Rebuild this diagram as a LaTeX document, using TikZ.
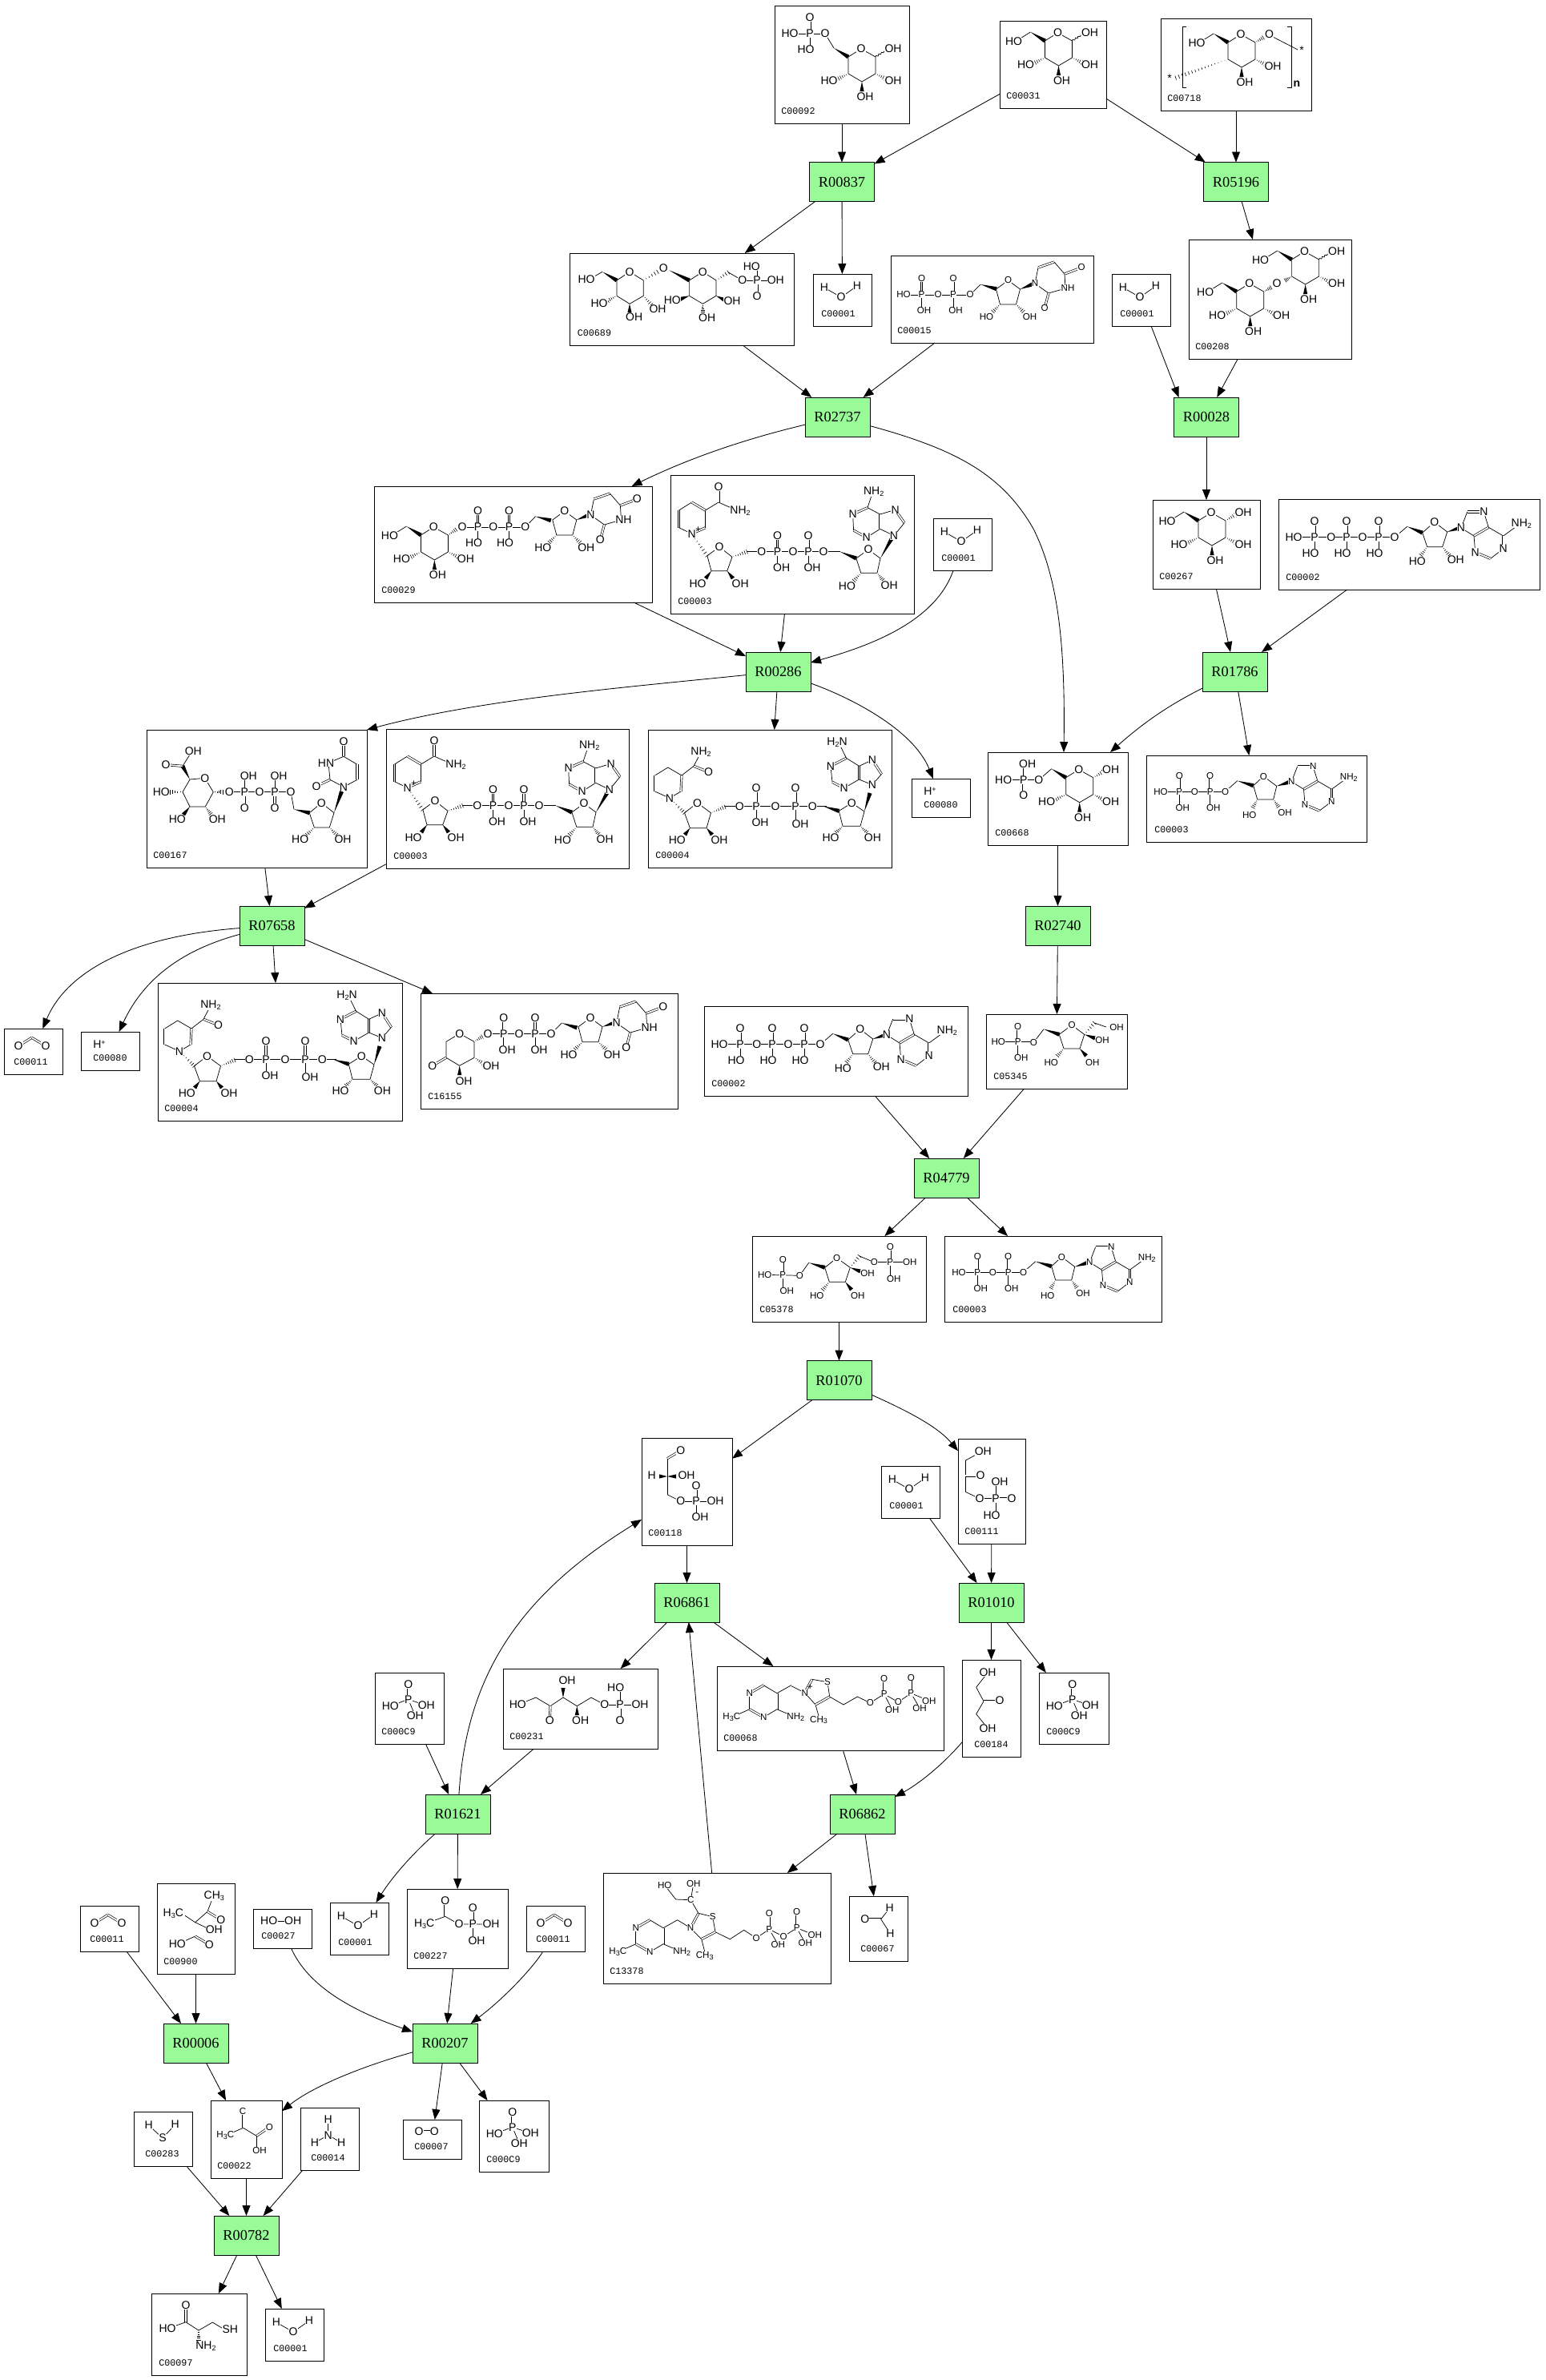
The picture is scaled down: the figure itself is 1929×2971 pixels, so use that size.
\documentclass[tikz,border=0pt]{standalone}
\usepackage{fontspec}
\setmainfont{Liberation Sans}
\newfontfamily\monof{Liberation Mono}
\newfontfamily\serf{Liberation Serif}
\usetikzlibrary{arrows.meta,decorations.pathmorphing,calc}
\definecolor{rgreen}{HTML}{98FB98}
\newcount\atc
\newcommand\afont{\fontsize{7}{8}\selectfont}
\newcommand\afontS{\fontsize{5.8}{7}\selectfont}
\newcommand\subtxt[1]{\raisebox{-.25ex}{\fontsize{4.5}{5}\selectfont #1}}
\newcommand\suptxt[1]{\raisebox{.6ex}{\fontsize{4.5}{5}\selectfont #1}}
\newcommand\curf{L}
\newcommand\atqm{}
\tikzset{
 bond/.style={line width=.36pt,line join=round},
 dbond/.style={line width=.33pt,double,double distance=.85pt},
 hashb/.style={line width=.3pt},
 atomL/.style={font=\afont,fill=white,inner sep=.15pt,outer sep=0pt},
 atomS/.style={font=\afontS,fill=white,inner sep=.15pt,outer sep=0pt},
 plus/.style={font=\afontS,inner sep=0pt},
 cpd/.style={draw,line width=.5pt,fill=white,inner sep=0pt,outer sep=0pt},
 lab/.style={font=\monof\fontsize{5.85}{7}\selectfont,inner sep=0pt},
 rxn/.style={draw,line width=.5pt,fill=rgreen,inner sep=0pt,outer sep=0pt,minimum width=40.5pt,minimum height=24.5pt,font=\serf\fontsize{9.2}{10}\selectfont},
 edge/.style={line width=.42pt,-{Triangle[length=6.5pt,width=5pt]}}
}
\newcommand\Aa[3]{\global\advance\atc by 1\coordinate (p\the\atc) at (#1,#2);\edef\tmpq{\noexpand\node[atom\curf] (a\the\atc) at (p\the\atc)}\xdef\atqm{\unexpanded\expandafter{\atqm}\unexpanded\expandafter{\tmpq}\unexpanded{{#3};}}}
\newcommand\Ap[3]{\global\advance\atc by 1\coordinate (p\the\atc) at (#1,#2);\edef\tmpq{\noexpand\node[plus] (a\the\atc) at (p\the\atc)}\xdef\atqm{\unexpanded\expandafter{\atqm}\unexpanded\expandafter{\tmpq}\unexpanded{{#3};}}}
\newcommand\Bs[4]{\draw[bond] (#1,#2)--(#3,#4);}
\newcommand\Bp[1]{\draw[bond] #1;}
\newcommand\Bd[4]{\draw[dbond] (#1,#2)--(#3,#4);}
\newcommand\Bv[4]{\draw[bond,decorate,decoration={snake,amplitude=.5pt,segment length=2pt}] (#1,#2)--(#3,#4);}
\newcommand\Bw[4]{\pgfmathsetmacro\hdx{#3-(#1)}\pgfmathsetmacro\hdy{#4-(#2)}\pgfmathsetmacro\hl{veclen(\hdx,\hdy)}\pgfmathsetmacro\hnx{-(\hdy)/\hl*2.6}\pgfmathsetmacro\hny{\hdx/\hl*2.6}\fill (#1,#2)--({#3+\hnx},{#4+\hny})--({#3-(\hnx)},{#4-(\hny)})--cycle;}
\newcommand\BhL[5]{\pgfmathsetmacro\hdx{#3-(#1)}\pgfmathsetmacro\hdy{#4-(#2)}\pgfmathsetmacro\hl{veclen(\hdx,\hdy)}\pgfmathsetmacro\hnx{-(\hdy)/\hl*2.8}\pgfmathsetmacro\hny{\hdx/\hl*2.8}\foreach \t in {#5}{\draw[hashb] ({#1+\t*\hdx+\t*\hnx},{#2+\t*\hdy+\t*\hny})--({#1+\t*\hdx-\t*\hnx},{#2+\t*\hdy-\t*\hny});}}
\newcommand\Bh[4]{\BhL{#1}{#2}{#3}{#4}{.2,.4,.6,.8,1}}
\newcommand\Mol[3]{\begin{scope}[shift={(#1,#2)}]#3\end{scope}}
\newcommand\MolS[3]{\begin{scope}[shift={(#1,#2)}]\renewcommand\curf{S}#3\end{scope}}
\newcommand\Cpd[7]{\pgfmathsetlengthmacro\cw{(#4-#2)*0.5}\pgfmathsetlengthmacro\ch{(#5-#3)*0.5}%
 \node[cpd,minimum width=\cw,minimum height=\ch] (#1) at ({(#2+#4)/2},{(#3+#5)/2}) {};
 \node[lab,anchor=west] (#1l) at ({#2+#7},{#5-15}) {#6};}
\newcommand\Rx[4]{\node[rxn] (#1) at (#2,#3) {#4};}
\newcommand\PhU[4]{\Bd{#1}{#2}{#1}{#2-20}\Bs{#1}{#2}{#1}{#2+18}\Aa{#1}{#2}{P}\Aa{#1}{#2-20}{O}\Aa{#1+#3}{#2+20}{#4}}
\newcommand\PhD[4]{\Bd{#1}{#2}{#1}{#2+20}\Bs{#1}{#2}{#1}{#2-18}\Aa{#1}{#2}{P}\Aa{#1}{#2+20}{O}\Aa{#1+#3}{#2-20}{#4}}
\newcommand\pyrR{\Bp{(-16,10)--(0,0)--(18,10)--(18,31)--(1,41)--(-16,31)--cycle}\Bw{-34}{-1}{-16}{10}\Bh{18}{31}{30}{37}\Aa{40}{40}{OH}\Bw{1}{41}{1}{53}\Aa{5}{60}{OH}\Aa{0}{0}{O}}
\newcommand\pyrL{\Bh{-16}{31}{-28}{37}\Aa{-40}{40}{HO}}
\newcommand\cOHw{\Bv{18}{10}{29}{3}\Aa{40}{0}{OH}}
\newcommand\cOHh{\Bh{18}{10}{30}{3}\Aa{40}{0}{OH}}
\newcommand\cHO{\Bs{-34}{-1}{-50}{9}\Aa{-55}{11}{HO}}
\newcommand\ribR{\Bp{(-15,11)--(0,0)--(15,11)--(10,30)--(-10,30)--cycle}\Aa{0}{0}{O}}
\newcommand\ribH{\Bh{-10}{30}{-19}{39}\Aa{-27}{46}{HO}\Bh{10}{30}{19}{39}\Aa{27}{46}{OH}}
\newcommand\uraA{\Bs{0}{0}{4}{-20}\Bd{4}{-20}{24}{-27}\Bs{24}{-27}{37}{-12}\Bd{37}{-12}{58}{-20}\Bs{37}{-12}{38}{6}\Bs{38}{6}{17}{12}\Bs{17}{12}{0}{0}\Bd{17}{12}{12}{31}\Aa{0}{0}{N}\Aa{58}{-20}{O}\Aa{41}{6}{NH}\Aa{12}{31}{O}}
\newcommand\uraB{\Bs{0}{0}{-17}{-9}\Bd{-17}{-9}{-34}{-1}\Bs{-17}{-9}{-19}{-30}\Bs{-19}{-30}{0}{-38}\Bd{0}{-38}{0}{-57}\Bs{0}{-38}{17}{-28}\Bd{17}{-28}{17}{-9}\Bs{17}{-9}{0}{0}\Aa{0}{0}{N}\Aa{-34}{-1}{O}\Aa{-22}{-30}{HN}\Aa{0}{-57}{O}}
\newcommand\adeA{\Bs{0}{0}{7.7}{-20}\Bd{7.7}{-20}{28.3}{-20}\Bs{28.3}{-20}{34.3}{-.7}\Bd{34.3}{-.7}{16}{10}\Bs{16}{10}{0}{0}\Bs{34.3}{-.7}{52.7}{10}\Bs{52.7}{10}{72}{-4}\Bd{52.7}{10}{52.7}{26}\Bs{52.7}{26}{36.7}{38.3}\Bd{36.7}{38.3}{17.7}{30.3}\Bs{17.7}{30.3}{16}{10}\Aa{0}{0}{N}\Aa{28.3}{-20}{N}\Aa{52.7}{26}{N}\Aa{17.7}{30.3}{N}\Aa{75.3}{-5.7}{NH\subtxt{2}}}
\newcommand\adeB{\Bs{0}{0}{-17.3}{-8.4}\Bs{-17.3}{-8.4}{-34.3}{2.3}\Bd{-34.3}{2.3}{-50.4}{-6.7}\Bs{-50.4}{-6.7}{-51.4}{-26.7}\Bd{-51.4}{-26.7}{-33}{-35}\Bs{-33}{-35}{-27}{-53}\Bs{-33}{-35}{-17.3}{-26.7}\Bd{-17.3}{-26.7}{-17.3}{-8.4}\Bs{-17.3}{-26.7}{1.6}{-32.4}\Bd{1.6}{-32.4}{13}{-16}\Bs{13}{-16}{0}{0}\Aa{0}{0}{N}\Aa{-34.3}{2.3}{N}\Aa{-51.4}{-26.7}{N}\Aa{1.6}{-32.4}{N}\Aa{-25.3}{-55}{NH\subtxt{2}}}
\newcommand\atpM{\Bs{19}{47.7}{145}{47.7}\Aa{19}{47.7}{HO}\PhU{45}{47.7}{-5}{HO}\Aa{65.7}{47.7}{O}\PhU{85}{47.7}{-5}{HO}\Aa{105}{47.7}{O}\PhU{125}{47.7}{-5}{HO}\Aa{145}{47.7}{O}\Bs{145}{47.7}{160.7}{34.3}\Bw{160.7}{34.3}{179.7}{42}%
 \Bp{(179.7,42)--(194.7,28.7)--(210.7,41)--(204.7,59.7)--(185.7,59.7)--cycle}\Aa{194.7}{28.7}{O}\Bh{185.7}{59.7}{178}{70}\Aa{173.3}{78}{HO}\Bh{204.7}{59.7}{213}{70}\Aa{221.3}{76}{OH}\Bw{210.7}{41}{226}{36}\Mol{228}{36}{\adeA}}
\newcommand\adpM{\Bs{18}{45}{98.7}{45}\Aa{18}{45}{HO}\PhU{41.3}{45}{4}{OH}\Aa{60.3}{45}{O}\PhU{79.7}{45}{4}{OH}\Aa{98.7}{45}{O}\Bs{98.7}{45}{113.7}{31.7}\Bw{113.7}{31.7}{133.7}{37.7}%
 \Bp{(133.7,37.7)--(146.3,26)--(162.7,38.3)--(158.7,55)--(138.7,55)--cycle}\Aa{146.3}{26}{O}\Bh{138.7}{55}{133}{65}\Aa{128.7}{74}{HO}\Bh{158.7}{55}{165}{64}\Aa{173}{71}{OH}\Bw{162.7}{38.3}{178}{33.5}%
 \begin{scope}[shift={(181.3,32.7)},scale=.95]\adeA\end{scope}}
\newcommand\nadM{\Bs{26.6}{34}{10.6}{44}\Bd{10.6}{44}{10.6}{65.7}\Bs{10.6}{65.7}{26.6}{73.3}\Bd{26.6}{73.3}{43.6}{65.7}\Bs{43.6}{65.7}{43.6}{44}\Bd{43.6}{44}{26.6}{34}\Bs{43.6}{44}{60}{34}\Bd{60}{34}{60}{14.7}\Bs{60}{34}{78}{42}\Aa{60}{14.7}{O}\Aa{87}{44.7}{NH\subtxt{2}}\Aa{26.6}{73.3}{N}\Ap{34.4}{68}{+}%
 \BhL{29}{77}{45.9}{100.7}{.1,.25,.4,.55,.7,.85,1}%
 \Bp{(45.9,100.7)--(61,89.7)--(77,102.3)--(70.7,119.7)--(51,119.7)--cycle}\Aa{61}{89.7}{O}\Bw{51}{119.7}{44}{129}\Aa{34}{135.7}{HO}\Bw{70.7}{119.7}{78}{129}\Aa{87.2}{135.7}{OH}%
 \BhL{77}{102.3}{95.5}{95.7}{.1,.25,.4,.55,.7,.85,1}\Bs{95.5}{95.7}{211.7}{95.7}\Aa{113.9}{95.7}{O}\PhU{133.6}{95.7}{5}{OH}\Aa{153}{95.7}{O}\PhU{172}{95.7}{5}{OH}\Aa{191}{95.7}{O}\Bw{211.7}{95.7}{231.9}{104}%
 \Bp{(231.9,104)--(247,93)--(262,104)--(258,122.3)--(237.8,122.3)--cycle}\Aa{247}{93}{O}\Bh{237.8}{122.3}{229}{132}\Aa{220.4}{139}{HO}\Bh{258}{122.3}{265}{131}\Aa{273.2}{137.3}{OH}\Bw{262}{104}{277}{78}\Mol{279}{75.7}{\adeB}}
\newcommand\nadhM{\Bp{(24.8,47)--(8.7,57)}\Bd{8.7}{57}{8.7}{77}\Bp{(8.7,77)--(27,85.3)--(41,77)}\Bd{41}{77}{42}{57}\Bp{(42,57)--(24.8,47)}\Bs{42}{57}{57}{45.3}\Bd{57}{45.3}{75.5}{52.7}\Bs{57}{45.3}{64}{32}\Aa{75.5}{52.7}{O}\Aa{66}{28}{NH\subtxt{2}}\Aa{27}{85.3}{N}%
 \BhL{31}{89}{45.5}{103.7}{.1,.3,.5,.7,.85,1}%
 \Bp{(45.5,103.7)--(61.6,91.3)--(78.5,103.7)--(73,122.7)--(52.4,122.7)--cycle}\Aa{61.6}{91.3}{O}\Bw{52.4}{122.7}{46}{131}\Aa{36.3}{137.3}{HO}\Bw{73}{122.7}{80}{131}\Aa{89}{137.3}{OH}%
 \BhL{78.5}{103.7}{96}{96.3}{.1,.25,.4,.55,.7,.85,1}\Bs{96}{95.3}{223}{95.3}\Aa{114.3}{95.3}{O}%
 \Bd{135}{95.3}{135}{73}\Bs{135}{95.3}{135}{113}\Aa{135}{95.3}{P}\Aa{135}{73}{O}\Aa{140}{115.3}{OH}\Aa{159}{95.3}{O}%
 \Bd{184}{95.3}{184}{73}\Bs{184}{95.3}{184}{115}\Aa{184}{95.3}{P}\Aa{184}{73}{O}\Aa{190}{117.3}{OH}\Aa{205.2}{95.3}{O}\Bw{219}{95.5}{238.3}{101.3}%
 \Bp{(238.3,101.3)--(254.4,91.3)--(270,102)--(265,120.3)--(243,120.3)--cycle}\Aa{254.4}{91.3}{O}\Bh{243}{120.3}{235}{128}\Aa{228}{134.3}{HO}\Bh{265}{120.3}{273}{128}\Aa{280.4}{134.3}{OH}\Bw{270}{102}{277}{79}%
 \Bs{263.5}{62}{244.7}{72.7}\Bd{244.7}{72.7}{230}{65.3}\Bs{230}{65.3}{228}{45.3}\Bd{228}{45.3}{247.5}{35.3}\Bs{247.5}{35.3}{240}{20}\Bs{247.5}{35.3}{263.5}{45.3}\Bd{263.5}{45.3}{263.5}{62}\Bs{263.5}{45.3}{280}{37.7}\Bd{280}{37.7}{291.5}{55.3}\Bs{291.5}{55.3}{280}{68.7}\Bs{280}{68.7}{263.5}{62}\Aa{244.7}{72.7}{N}\Aa{228}{45.3}{N}\Aa{280}{37.7}{N}\Aa{280}{68.7}{N}\Aa{236}{16}{H\subtxt{2}N}}
\newcommand\waterM{\Bs{14}{17}{35}{29}\Bs{35}{29}{55}{15}\Aa{14}{17}{H}\Aa{35}{29}{O}\Aa{55}{15}{H}}
\newcommand\piM{\Bd{41.7}{14.3}{41.7}{33.3}\Bs{41.7}{33.3}{19.3}{41.7}\Bs{41.7}{33.3}{64.3}{41}\Bs{41.7}{33.3}{50.3}{53.7}\Aa{41.7}{14.3}{O}\Aa{41.7}{33.3}{P}\Aa{19.3}{41.7}{HO}\Aa{64.3}{41}{OH}\Aa{50.3}{53.7}{OH}}
\newcommand\coM{\Bd{18}{21.7}{34.7}{11.3}\Bd{34.7}{11.3}{52}{21.7}\Aa{18}{21.7}{O}\Aa{52}{21.7}{O}}
\newcommand\pymM{\Bs{18.3}{0}{40.7}{-10}\Bs{40.7}{-10}{40.7}{-30}\Bd{40.7}{-30}{58.3}{-40}\Bs{58.3}{-40}{75}{-30}\Bd{75}{-30}{75}{-10}\Bs{75}{-10}{58.3}{0}\Bd{58.3}{0}{40.7}{-10}\Bs{75}{-10}{98.3}{0}\Bs{75}{-30}{92.7}{-40}\Aa{18.3}{0}{H\subtxt{3}C}\Aa{40.7}{-30}{N}\Aa{58.3}{0}{N}\Aa{98.3}{0}{NH\subtxt{2}}}
\begin{document}
\begin{tikzpicture}[x=.5pt,y=-.5pt]
\useasboundingbox (0,0) rectangle (1929,2971);
\fill[white] (0,0) rectangle (1929,2971);
\Rx{r837}{1051}{227}{R00837}
\Rx{r5196}{1543}{227}{R05196}
\Rx{r2737}{1045.5}{520.5}{R02737}
\Rx{r28}{1506}{520.5}{R00028}
\Rx{r286}{971.5}{838.5}{R00286}
\Rx{r1786}{1541.5}{838.5}{R01786}
\Rx{r7658}{339.5}{1155.5}{R07658}
\Rx{r2740}{1320.5}{1155.5}{R02740}
\Rx{r4779}{1181.5}{1470.5}{R04779}
\Rx{r1070}{1047.5}{1723}{R01070}
\Rx{r6861}{857.5}{2000.5}{R06861}
\Rx{r1010}{1237.5}{2000.5}{R01010}
\Rx{r6862}{1076.5}{2264.5}{R06862}
\Rx{r1621}{571.5}{2264.5}{R01621}
\Rx{r6}{244.5}{2550.5}{R00006}
\Rx{r207}{555.5}{2550.5}{R00207}
\Rx{r782}{307.5}{2790.5}{R00782}
\Cpd{c92}{967}{7}{1135}{154}{C00092}{8}
\Mol{1075}{61}{\pyrR\pyrL\cOHw\Bs{-34}{-1}{-45}{-19}\Aa{-45}{-19}{O}\Bs{-45}{-19}{-89}{-19}\Aa{-64}{-19}{P}\Bd{-64}{-19}{-64}{-39}\Aa{-64}{-39}{O}\Aa{-89}{-19}{HO}\Bs{-64}{-19}{-64}{-1}\Aa{-69}{1}{HO}}
\Cpd{c31}{1248}{26}{1381}{135}{C00031}{8}
\Mol{1320.5}{41}{\pyrR\pyrL\cOHw\cHO}
\Cpd{c718}{1449}{23}{1637}{138}{C00718}{8}
\Mol{1549}{43}{\pyrR\cHO\Bh{18}{10}{28}{4}\Aa{35.5}{0}{O}\Bs{38}{2}{71}{19}\Aa{76}{20}{*}\BhL{-16}{31}{-84}{55}{.06,.12,.18,.24,.3,.36,.42,.48,.54,.6,.66,.72,.78,.84,.9,.96}\Aa{-89}{55}{*}}
\draw[bond,line width=.45pt] (1481,33)--(1476,33)--(1476,109)--(1481,109);
\draw[bond,line width=.45pt] (1607,33)--(1612,33)--(1612,109)--(1607,109);
\Aa{1619}{105}{\textbf{n}}
\Cpd{c689}{711.5}{316}{991.5}{431}{C00689}{9}
\Mol{786}{339.3}{\Bp{(-16,10.7)--(0,0)--(17.3,10.7)--(17.3,30)--(0,40)--(-16,30)--cycle}\Bw{-34}{0}{-16}{10.7}\Bs{-34}{0}{-48}{8}\Aa{-54}{9}{HO}\Aa{0}{0}{O}\Bh{-16}{30}{-27}{36}\Aa{-38}{39}{HO}\Bw{0}{40}{0}{51}\Aa{5.7}{56}{OH}\Bh{17.3}{30}{27}{41}\Aa{35}{46.7}{OH}\Bh{17.3}{10.7}{35}{0}\Aa{42.3}{-4.3}{O}}
\Mol{877.3}{339.3}{\Bp{(-16.7,10.7)--(0,0)--(16.7,10.7)--(16.7,30)--(0,40)--(-16.7,30)--cycle}\Bw{-42}{-2}{-16.7}{10.7}\Aa{0}{0}{O}\Bw{-16.7}{30}{-28}{34}\Aa{-38}{35}{HO}\Bw{16.7}{30}{27}{35}\Aa{36.7}{36.7}{OH}\Bh{0}{40}{0}{50}\Aa{5.4}{57.4}{OH}\Bh{16.7}{10.7}{32}{0.7}\Bs{32}{0.7}{49.4}{10.7}\Aa{49.4}{10.7}{O}\Bs{49.4}{10.7}{91}{10.7}\Aa{67.7}{10.7}{P}\Bs{67.7}{10.7}{67.7}{-5}\Aa{61}{-7}{HO}\Aa{91}{10.7}{OH}\Bd{67.7}{10.7}{67.7}{30}\Aa{67.7}{30}{O}}
\Cpd{c1a}{1015}{342}{1088}{407}{C00001}{10}
\Mol{1015}{342}{\waterM}
\Cpd{c15}{1112}{319}{1365}{428}{C00015}{8}
\MolS{1112}{319}{\Bs{16}{49}{99}{49}\Aa{16}{49}{HO}\PhU{38.6}{49}{3}{OH}\Aa{59}{49}{O}\PhU{78}{49}{3}{OH}\Aa{99}{49}{O}\Bs{99}{49}{112}{36}\Bw{112}{36}{132}{41.7}\Mol{146.5}{31}{\ribR\ribH\Bw{15}{11}{30}{5}}\Mol{180}{35}{\uraA}}
\Cpd{c1b}{1388}{342}{1461}{407}{C00001}{10}
\Mol{1388}{342}{\waterM}
\Cpd{c208}{1484}{299}{1687}{448}{C00208}{8}
\Mol{1628.6}{314}{\pyrR\cOHw\cHO\Bh{-16}{31}{-24}{36}}
\Mol{1559.7}{354}{\pyrR\pyrL\cHO\Bh{18}{10}{27}{5}\Aa{34.3}{0}{O}}
\Cpd{c29}{467}{607}{814}{752}{C00029}{9}
\Mol{467}{607}{\Mol{74.4}{51}{\pyrR\pyrL\cHO\Bh{18}{10}{28}{3}}\Bs{110}{51}{188.7}{51}\Aa{110}{51}{O}\PhU{129.5}{51}{-5}{HO}\Aa{148.8}{51}{O}\PhU{168.5}{51}{-5}{HO}\Aa{188.7}{51}{O}\Bs{188.7}{51}{201.5}{37.7}\Bw{201.5}{37.7}{220.8}{42.7}\Mol{237.8}{31}{\ribR\ribH\Bw{15}{11}{30}{5}}\Mol{270.4}{36}{\uraA}}
\Cpd{c3a}{837}{593}{1141}{766}{C00003}{9}
\Mol{837}{593}{\nadM}
\Cpd{c1c}{1165}{647}{1238}{712}{C00001}{10}
\Mol{1165}{647}{\waterM}
\Cpd{c267}{1439}{624}{1573}{735}{C00267}{8}
\Mol{1512}{640}{\pyrR\pyrL\cOHh\cHO}
\Cpd{c2a}{1596}{623}{1922}{736}{C00002}{9}
\Mol{1596}{623}{\atpM}
\Cpd{c167}{183}{911}{458}{1083}{C00167}{8}
\Mol{183}{911}{\Bp{(54,62)--(72.7,60.3)--(83.3,77.7)--(73.3,96)--(54,96)--(45,77.7)--cycle}\Aa{72.7}{60.3}{O}\Bw{54}{62}{45}{45.3}\Bd{45}{45.3}{24}{43.7}\Bs{45}{45.3}{54}{31}\Aa{24}{43.7}{O}\Aa{58.3}{27}{OH}\Bh{45}{77.7}{29}{77.7}\Aa{18.3}{77.7}{HO}\Bw{54}{96}{46}{106}\Aa{38.3}{112}{HO}\Bh{73.3}{96}{80}{105}\Aa{88.3}{112}{OH}\Bh{83.3}{77.7}{95}{77.7}\Bs{103.3}{77.7}{180}{77.7}\Aa{103.3}{77.7}{O}\PhD{122.3}{77.7}{5}{OH}\Aa{141}{77.7}{O}\PhD{160}{77.7}{5}{OH}\Aa{180}{77.7}{O}\Bs{180}{77.7}{184}{99.3}\Bw{184}{99.3}{203.3}{103.7}\Bp{(203.3,103.7)--(218.3,91.3)--(234,103.7)--(228.3,122)--(209.3,122)--cycle}\Aa{218.3}{91.3}{O}\Bh{209.3}{122}{200}{131}\Aa{191.7}{137}{HO}\Bh{228.3}{122}{237}{131}\Aa{245}{137}{OH}\Bw{234}{103.7}{243.5}{77}\Mol{246}{71.3}{\uraB}}
\Cpd{c3b}{482}{910}{785}{1084}{C00003}{9}
\Mol{482}{910}{\nadM}
\Cpd{c4a}{809}{911}{1113}{1083}{C00004}{9}
\Mol{809}{911}{\nadhM}
\Cpd{c80a}{1138}{972}{1211}{1020}{C00080}{15}
\Aa{1161}{988}{H\suptxt{+}}
\Cpd{c668}{1233}{939}{1408}{1055}{C00668}{9}
\Mol{1346.7}{960.7}{\pyrR\pyrL\cOHh\Bs{-34}{-1}{-50}{13}\Aa{-50}{13}{O}\Bs{-50}{13}{-94}{13}\Aa{-69}{13}{P}\Bs{-69}{13}{-69}{-5}\Aa{-64}{-7}{OH}\Bd{-69}{13}{-69}{32}\Aa{-69}{32}{O}\Aa{-94}{13}{HO}}
\Cpd{c3d}{1431}{943}{1706}{1051}{C00003}{10}
\MolS{1431}{943}{\adpM}
\Cpd{c11a}{5}{1284}{78}{1341}{C00011}{12}
\Mol{5}{1284}{\coM}
\Cpd{c80b}{101}{1288}{174}{1336}{C00080}{15}
\Aa{124}{1304}{H\suptxt{+}}
\Cpd{c4b}{197}{1227}{502}{1399}{C00004}{8}
\Mol{197}{1227}{\nadhM}
\Cpd{c16155}{525}{1240}{846}{1384}{C16155}{9}
\Mol{525}{1240}{\Bp{(48.7,50.3)--(32,60.3)--(32,80.3)--(48.7,90.3)--(67,80.3)--(67,60.3)--cycle}\Bd{32}{80.3}{14.7}{90.3}\Aa{14.7}{90.3}{O}\Bw{48.7}{90.3}{48.7}{102}\Aa{54}{109.7}{OH}\Bh{67}{80.3}{78}{87}\Aa{88}{90.3}{OH}\Aa{48.7}{50.3}{O}\Bh{67}{60.3}{77}{54}\Bs{84}{50.3}{163}{50.3}\Aa{84}{50.3}{O}\PhU{103.7}{50.3}{4.5}{OH}\Aa{123}{50.3}{O}\PhU{143}{50.3}{5}{OH}\Aa{163}{50.3}{O}\Bs{163}{50.3}{176.3}{37}\Bw{176.3}{37}{195.3}{43}\Mol{212}{30.7}{\ribR\ribH\Bw{15}{11}{30}{6}}\Mol{244.7}{37}{\uraA}}
\Cpd{c2b}{879}{1256}{1208}{1368}{C00002}{9}
\Mol{879}{1256}{\atpM}
\Cpd{c5345}{1231}{1266}{1407}{1359}{C05345}{9}
\MolS{1231}{1266}{\Bs{15.3}{34.3}{59.3}{34.3}\Aa{15.3}{34.3}{HO}\Bd{39.7}{34.3}{39.7}{15.3}\Bs{39.7}{34.3}{39.7}{52}\Aa{39.7}{34.3}{P}\Aa{39.7}{15.3}{O}\Aa{43.7}{54.3}{OH}\Aa{59.3}{35.3}{O}\Bs{59.3}{35.3}{72}{18.7}\Bw{72}{18.7}{91.3}{25.3}\Bp{(91.3,25.3)--(107,13.7)--(122.7,25.3)--(117,43)--(97,43)--cycle}\Aa{107}{13.7}{O}\Bh{97}{43}{89}{52}\Aa{81.3}{60.3}{HO}\Bw{117}{43}{125}{52}\Aa{132.7}{60.3}{OH}\Bw{122.7}{25.3}{136}{30}\Aa{145}{32}{OH}\Bh{122.7}{25.3}{135.3}{11}\Bs{135.3}{11}{150}{16}\Aa{163}{16}{OH}}
\Cpd{c5378}{939}{1543}{1156}{1650}{C05378}{9}
\MolS{939}{1543}{\Bs{15.7}{48.3}{59.3}{49.3}\Aa{15.7}{48.3}{HO}\Bd{38.3}{48.3}{38.3}{29}\Bs{38.3}{48.3}{38.3}{66}\Aa{38.3}{48.3}{P}\Aa{38.3}{29}{O}\Aa{43.3}{68.3}{OH}\Aa{59.3}{49.3}{O}\Bs{59.3}{49.3}{70.7}{33.3}\Bw{70.7}{33.3}{90.7}{39.3}\Bp{(90.7,39.3)--(105.7,27.3)--(122.3,39.3)--(116.3,57.3)--(96.3,57.3)--cycle}\Aa{105.7}{27.3}{O}\Bh{96.3}{57.3}{88}{67}\Aa{80.7}{74.3}{HO}\Bw{116.3}{57.3}{124}{67}\Aa{131.7}{74.3}{OH}\Bw{122.3}{39.3}{135}{44}\Aa{144}{46.7}{OH}\Bh{122.3}{39.3}{134}{25}\Bs{134}{25}{152.3}{32.7}\Aa{152.3}{32.7}{O}\Bs{152.3}{32.7}{196.7}{32.7}\Aa{172.3}{32.7}{P}\Bd{172.3}{32.7}{172.3}{13.3}\Aa{172.3}{13.3}{O}\Bs{172.3}{32.7}{172.3}{51}\Aa{176.7}{53.3}{OH}\Aa{196.7}{32.7}{OH}}
\Cpd{c3c}{1179}{1543}{1450}{1650}{C00003}{10}
\MolS{1179}{1543}{\adpM}
\Cpd{c118}{801}{1795}{914}{1929}{C00118}{8}
\Mol{801}{1795}{\Bd{32}{25.7}{48.7}{15.7}\Aa{48.7}{15.7}{O}\Bs{32}{25.7}{32}{70.7}\Bs{32}{70.7}{48.7}{79}\Aa{12.7}{46.3}{H}\Aa{56}{46.3}{OH}\Bw{32}{48}{22}{48}\Bw{32}{48}{43}{48}\Bs{48.7}{79}{92}{79}\Aa{48.7}{79}{O}\Aa{68}{79}{P}\Bd{68}{79}{68}{59.7}\Aa{68}{59.7}{O}\Bs{68}{79}{68}{97}\Aa{73}{99}{OH}\Aa{92}{79}{OH}}
\Cpd{c1d}{1100}{1830}{1173}{1895}{C00001}{10}
\Mol{1100}{1830}{\waterM}
\Cpd{c111}{1196}{1796}{1280}{1927}{C00111}{8}
\Mol{1196}{1796}{\Bs{31.3}{15.3}{9.3}{27}\Bs{9.3}{27}{9.3}{66.3}\Bd{9.3}{46}{28}{46}\Aa{28}{45.3}{O}\Aa{31.3}{15.3}{OH}\Bs{9.3}{66.3}{27}{74.7}\Aa{27}{74.7}{O}\Bs{27}{74.7}{47}{74.7}\Aa{47}{74.7}{P}\Bs{47}{74.7}{47}{56}\Aa{52}{53.7}{OH}\Bd{47}{74.7}{67}{74.7}\Aa{67}{74.7}{O}\Bs{47}{74.7}{47}{94}\Aa{42}{96}{HO}}
\Cpd{c231}{628}{2083}{821}{2183}{C00231}{8}
\Mol{628}{2083}{\Bp{(18.3,45)--(41,36)--(59,46.7)--(75,36)--(92.3,46.7)--(110,36)--(126.7,45)}\Aa{18.3}{45}{HO}\Bd{59}{46.7}{58.3}{65}\Aa{58.3}{65}{O}\Bw{75}{36}{75}{24}\Aa{80}{15}{OH}\Bw{92.3}{46.7}{92.3}{58}\Aa{96.7}{65}{OH}\Aa{126.7}{45}{O}\Bs{126.7}{45}{171}{45}\Aa{146}{45}{P}\Bs{146}{45}{146}{27}\Aa{140.7}{24}{HO}\Aa{171}{45}{OH}\Bd{146}{45}{146}{65}\Aa{146}{65}{O}}
\Cpd{c68}{895}{2080}{1178}{2185}{C00068}{8}
\MolS{895}{2080}{\Mol{0}{63.7}{\pymM}\Bp{(93,24.7)--(109.7,33)--(123,48)--(127,62)}\Bd{109.7}{33}{118.7}{16.3}\Bp{(118.7,16.3)--(138,19.7)--(140.7,38)}\Bd{140.7}{38}{123}{48}\Bp{(140.7,38)--(158,48)--(175.3,38)--(191.3,45.7)--(208.7,34.7)--(226.3,44.7)--(242.3,33.7)--(264.7,43)}\Bs{208.7}{34.7}{218.7}{54}\Bs{242.3}{33.7}{253}{52}\Bd{208.7}{34.7}{208.7}{15.3}\Bd{242.3}{33.7}{242.3}{14}\Aa{109.7}{33}{N}\Ap{116.3}{26.3}{+}\Aa{138}{19.7}{S}\Aa{127}{67}{CH\subtxt{3}}\Aa{191.3}{45.7}{O}\Aa{208.7}{34.7}{P}\Aa{208.7}{15.3}{O}\Aa{218.7}{54}{OH}\Aa{226.3}{44.7}{O}\Aa{242.3}{33.7}{P}\Aa{242.3}{14}{O}\Aa{264.7}{43}{OH}\Aa{253}{52}{OH}}
\Cpd{c184}{1201}{2072}{1274}{2193}{C00184}{15}
\Mol{1201}{2072}{\Bp{(32,16)--(17.7,34.3)--(27,51.7)--(17.7,67.7)--(32,85.3)}\Bd{27}{51.7}{47}{51.7}\Aa{32}{16}{OH}\Aa{47}{51}{O}\Aa{32}{85.3}{OH}}
\Cpd{c9a}{1297}{2088}{1384}{2177}{C000C9}{9}
\Mol{1297}{2088}{\piM}
\Cpd{c9b}{468}{2088}{554}{2177}{C000C9}{8}
\Mol{468}{2088}{\piM}
\Cpd{c13378}{753}{2338}{1037}{2476}{C13378}{8}
\MolS{753}{2338}{\Mol{0}{98.7}{\pymM}\Bp{(92.7,58.7)--(109,68.7)--(122.7,82.7)--(126.7,98)}\Bd{109}{68.7}{119}{50.3}\Bp{(119,50.3)--(136.7,54.7)--(140,73.7)}\Bd{140}{73.7}{122.7}{82.7}\Bp{(119,50.3)--(109.3,33.7)--(90.7,33)--(76.7,15.3)}\Bs{109.3}{33.7}{112.7}{13.7}\Bp{(140,73.7)--(158.3,82.7)--(175.7,71.3)--(191,81.3)--(207.3,70.3)--(225,79.3)--(241.7,68.7)--(264.3,77.7)}\Bs{207.3}{70.3}{218.3}{89.3}\Bs{241.7}{68.7}{252.3}{87.7}\Bd{207.3}{70.3}{207.3}{50.3}\Bd{241.7}{68.7}{241.7}{48.7}\Aa{109}{68.7}{N}\Aa{136.7}{54.7}{S}\Aa{109.3}{33.7}{C}\Ap{117.3}{26}{-}\Aa{112.7}{13.7}{OH}\Aa{76.7}{15.3}{HO}\Aa{126.7}{103.7}{CH\subtxt{3}}\Aa{191}{81.3}{O}\Aa{207.3}{70.3}{P}\Aa{207.3}{50.3}{O}\Aa{218.3}{89.3}{OH}\Aa{225}{79.3}{O}\Aa{241.7}{68.7}{P}\Aa{241.7}{48.7}{O}\Aa{264.3}{77.7}{OH}\Aa{252.3}{87.7}{OH}}
\Cpd{c67}{1060}{2367}{1133}{2448}{C00067}{14}
\Mol{1060}{2367}{\Bd{19.7}{28.7}{39.7}{28.7}\Bs{39.7}{28.7}{50.7}{15}\Bs{39.7}{28.7}{51.3}{46.7}\Aa{19.7}{28.7}{O}\Aa{50.7}{15}{H}\Aa{51.3}{46.7}{H}}
\Cpd{c1e}{412}{2375}{485}{2440}{C00001}{10}
\Mol{412}{2375}{\waterM}
\Cpd{c227}{508}{2358}{634}{2457}{C00227}{8}
\Mol{508}{2358}{\Bp{(21.7,44)--(47.7,34.3)--(65,44)--(105,44)}\Bd{47.7}{34.3}{47.7}{15}\Aa{21.7}{44}{H\subtxt{3}C}\Aa{47.7}{15}{O}\Aa{65}{44}{O}\Aa{82.3}{44}{P}\Bd{82.3}{44}{82.3}{24}\Aa{82.3}{24}{O}\Aa{105}{44}{OH}\Bs{82.3}{44}{82.3}{62}\Aa{87}{64.3}{OH}}
\Cpd{c11c}{657}{2379}{730}{2436}{C00011}{12}
\Mol{657}{2379}{\coM}
\Cpd{c27}{316}{2383}{389}{2432}{C00027}{10}
\Mol{316}{2383}{\Bs{19.7}{15}{49.7}{15}\Aa{19.7}{15}{HO}\Aa{49.7}{15}{OH}}
\Cpd{c900}{196}{2351}{293}{2464}{C00900}{8}
\Mol{196}{2351}{\Bp{(35,40.3)--(47.7,48.7)--(63,35.3)--(68,22)}\Bs{47.7}{48.7}{65}{57}\Bd{63}{35.3}{79.7}{45.3}\Aa{20.3}{38}{H\subtxt{3}C}\Aa{71.3}{16}{CH\subtxt{3}}\Aa{79.7}{45.3}{O}\Aa{71.3}{58}{OH}\Bs{30}{74}{47.7}{66}\Bd{47.7}{66}{65.3}{76.3}\Aa{25.3}{76}{HO}\Aa{65.3}{76.3}{O}}
\Cpd{c11b}{100}{2379}{173}{2436}{C00011}{12}
\Mol{100}{2379}{\coM}
\Cpd{c22}{263}{2622}{352}{2719}{C00022}{8}
\MolS{263}{2622}{\Bd{40.7}{34.3}{40.7}{13.3}\Aa{40}{13.3}{C}\Bs{25}{41}{40.7}{34.3}\Bs{40.7}{34.3}{57.3}{44.3}\Bd{57.3}{44.3}{73.3}{33.3}\Bs{57.3}{44.3}{57.3}{60}\Aa{18.3}{43.7}{H\subtxt{3}C}\Aa{73.3}{33.3}{O}\Aa{61}{62}{OH}}
\Cpd{c283}{167}{2636}{240}{2704}{C00283}{14}
\Mol{167}{2636}{\Bs{18.7}{17}{36}{33}\Bs{36}{33}{51.7}{16}\Aa{18.7}{17}{H}\Aa{36}{33}{S}\Aa{51.7}{16}{H}}
\Cpd{c14}{375}{2631}{448}{2709}{C00014}{13}
\Mol{375}{2631}{\Bs{34.7}{14.7}{34.7}{34.3}\Bs{34.7}{34.3}{18}{43.7}\Bs{34.7}{34.3}{51.3}{43.7}\Aa{34.7}{14.7}{H}\Aa{34.7}{34.3}{N}\Aa{18}{43.7}{H}\Aa{51.3}{43.7}{H}}
\Cpd{c7}{503}{2646}{576}{2695}{C00007}{14}
\Mol{503}{2646}{\Bd{20}{14.7}{39.3}{14.7}\Aa{20}{14.7}{O}\Aa{39.3}{14.7}{O}}
\Cpd{c9c}{598}{2622}{685}{2711}{C000C9}{9}
\Mol{598}{2622}{\piM}
\Cpd{c97}{189}{2863}{308}{2965}{C00097}{9}
\Mol{189}{2863}{\Bd{43}{15}{43}{35.7}\Bs{28}{41}{43}{35.7}\Bs{43}{35.7}{59}{46}\Bs{59}{46}{76.3}{36}\Bs{76.3}{36}{88}{43}\Bh{59}{46}{59}{58}\Aa{43}{15}{O}\Aa{20}{43.3}{HO}\Aa{68}{65.7}{NH\subtxt{2}}\Aa{98.3}{45}{SH}}
\Cpd{c1f}{331}{2882}{404}{2947}{C00001}{10}
\Mol{331}{2882}{\waterM}
\draw[edge] (c92) -- (r837);
\draw[edge] (c31) -- (r837);
\draw[edge] (c31) -- (r5196);
\draw[edge] (c718) -- (r5196);
\draw[edge] (r837) -- (c689);
\draw[edge] (r837) -- (c1a);
\draw[edge] (r5196) -- (c208);
\draw[edge] (c689) -- (r2737);
\draw[edge] (c15) -- (r2737);
\draw[edge] (c208) -- (r28);
\draw[edge] (c1b) -- ($(r28.north west)+(6,0)$);
\draw[edge] (r28) -- (c267);
\draw[edge] (c267) -- (r1786);
\draw[edge] (c2a) -- (r1786);
\draw[edge] (r1786) .. controls (1460,880) and (1430,900) .. (c668);
\draw[edge] (r1786) -- (c3d);
\draw[edge] (r2737) .. controls (1190,560) and (1250,590) .. (1290,660) .. controls (1320,720) and (1330,800) .. ($(c668.north west)+(95,0)$);
\draw[edge] (r2737) .. controls (930,548) and (860,572) .. (c29);
\draw[edge] (c29) -- (r286);
\draw[edge] (c3a) -- (r286);
\draw[edge] (c1c) .. controls (1168,775) and (1090,805) .. (r286);
\draw[edge] (r286) .. controls (780,858) and (600,873) .. (c167.north east);
\draw[edge] (r286) -- (c4a);
\draw[edge] (r286) .. controls (1060,870) and (1140,910) .. (c80a);
\draw[edge] (c167) -- (r7658);
\draw[edge] (c3b) -- (r7658);
\draw[edge] (r7658) .. controls (150,1170) and (80,1220) .. (c11a);
\draw[edge] (r7658) .. controls (230,1185) and (180,1220) .. (c80b);
\draw[edge] (r7658) -- (c4b);
\draw[edge] (r7658) -- ($(c16155.north west)+(15,0)$);
\draw[edge] (c668) -- (r2740);
\draw[edge] (r2740) -- (c5345);
\draw[edge] (c2b) -- (r4779);
\draw[edge] (c5345) -- (r4779);
\draw[edge] (r4779) -- (c5378);
\draw[edge] (r4779) -- (c3c);
\draw[edge] (c5378) -- (r1070);
\draw[edge] (r1070) -- (c118);
\draw[edge] (r1070) .. controls (1130,1760) and (1170,1780) .. (c111);
\draw[edge] (c118) -- (r6861);
\draw[edge] (c1d) -- (r1010);
\draw[edge] (c111) -- (r1010);
\draw[edge] (r1010) -- (c184);
\draw[edge] (r1010) -- (c9a);
\draw[edge] (r6861) -- (c231);
\draw[edge] (r6861) -- (c68);
\draw[edge] (c13378) -- (r6861);
\draw[edge] (c68) -- (r6862);
\draw[edge] (c184) .. controls (1175,2205) and (1145,2228) .. (r6862);
\draw[edge] (r6862) -- (c13378);
\draw[edge] (r6862) -- (c67);
\draw[edge] (c9b) -- (r1621);
\draw[edge] (c231) -- (r1621);
\draw[edge] (r1621) .. controls (582,2090) and (650,1990) .. (c118);
\draw[edge] (r1621) .. controls (525,2305) and (495,2335) .. (c1e);
\draw[edge] (r1621) -- (c227);
\draw[edge] (c11c) .. controls (670,2450) and (635,2490) .. (r207);
\draw[edge] (c227) -- (r207);
\draw[edge] (c27) .. controls (385,2480) and (440,2510) .. (r207);
\draw[edge] (c11b) -- (r6);
\draw[edge] (c900) -- (r6);
\draw[edge] (r6) -- (c22);
\draw[edge] (r207) .. controls (450,2580) and (390,2605) .. (c22);
\draw[edge] (r207) -- (c7);
\draw[edge] (r207) -- (c9c);
\draw[edge] (c283) -- (r782);
\draw[edge] (c22) -- (r782);
\draw[edge] (c14) -- (r782);
\draw[edge] (r782) -- (c97);
\draw[edge] (r782) -- (c1f);
\atqm
\end{tikzpicture}
\end{document}
